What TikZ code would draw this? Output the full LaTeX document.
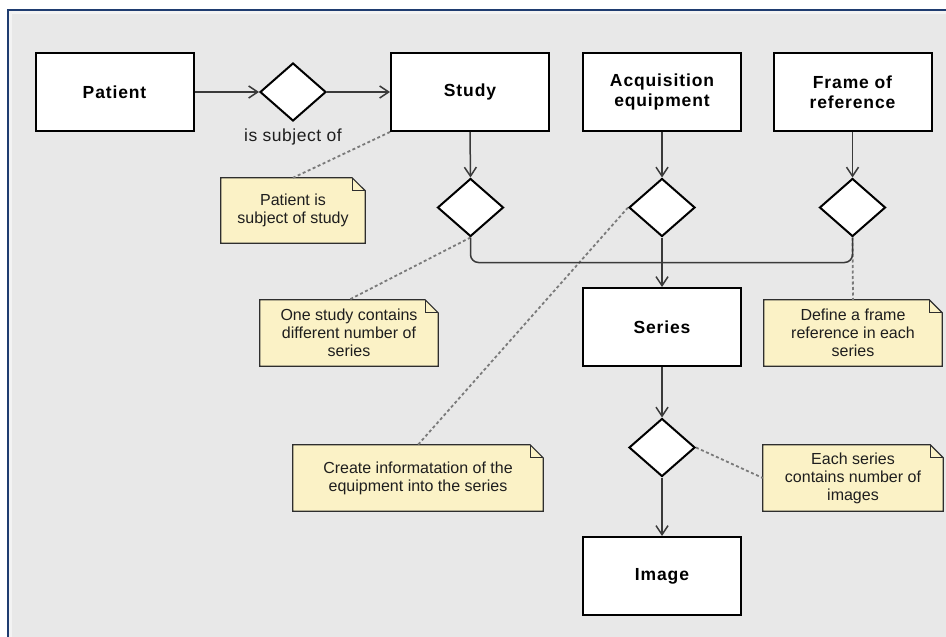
\documentclass[tikz,border=0pt]{standalone}
\usepackage{fontspec}
\setmainfont{Liberation Sans}
\newfontfamily\boxfont[LetterSpace=5]{Liberation Sans}
\newfontfamily\labelfont[LetterSpace=3]{Liberation Sans}
\usetikzlibrary{shapes.geometric,arrows.meta}

\definecolor{bggray}{HTML}{E8E8E8}
\definecolor{bglight}{HTML}{F3F3F3}
\definecolor{frameblue}{HTML}{1F3C70}
\definecolor{notefill}{HTML}{FBF2C6}
\definecolor{notebord}{HTML}{2E2E2E}
\definecolor{linegray}{HTML}{3A3A3A}
\definecolor{dashgray}{HTML}{7A7A7A}
\definecolor{textgray}{HTML}{1E1E1E}

% folded top-right corner of a note
\newcommand\foldnote[1]{%
  \fill[bggray] ([xshift=-13pt]#1.north east) -- (#1.north east) -- ([yshift=-13pt]#1.north east) -- cycle;
  \draw[notebox] (#1.south west) -- (#1.north west) -- ([xshift=-13pt]#1.north east)
    -- ([yshift=-13pt]#1.north east) -- (#1.south east) -- cycle;
  \draw[notebox] ([xshift=-13pt]#1.north east) |- ([yshift=-13pt]#1.north east);}

\begin{document}
\begin{tikzpicture}[x=1pt,y=-1pt,
  entity/.style={draw=black, line width=2pt, fill=white, minimum width=158pt,
    minimum height=78pt, inner sep=0pt, align=center,
    font=\boxfont\fontsize{17.5}{20}\selectfont\bfseries},
  rel/.style={diamond, draw=black, line width=2pt, fill=white,
    minimum width=66pt, minimum height=58pt, inner sep=0pt},
  note/.style={fill=notefill, inner sep=0pt, align=center, text=textgray,
    font=\fontsize{16}{18}\selectfont},
  notebox/.style={draw=notebord, line width=1.2pt},
  flow/.style={draw=linegray, line width=1.5pt},
  arrow/.style={flow, -{Straight Barb[length=9pt,width=12pt]}},
  link/.style={draw=dashgray, line width=1.8pt, dash pattern=on 3pt off 2.5pt}
]
\useasboundingbox (0,0) rectangle (946,637);

% canvas and frame
\fill[white] (0,0) rectangle (946,637);
\fill[bggray] (9,11) rectangle (946,637);
\fill[bglight] (9,11) rectangle (946,14);
\fill[bglight] (9,11) rectangle (12,637);
\draw[frameblue, line width=2pt] (8,637) -- (8,10) -- (946,10);

% entities
\node[entity] (pat) at (114.5,92) {Patient};
\node[entity] (stu) at (470,92) {Study};
\node[entity] (acq) at (662,92) {Acquisition\\equipment};
\node[entity] (frm) at (852.5,92) {Frame of\\reference};
\node[entity] (ser) at (662,327) {Series};
\node[entity] (img) at (662,576) {Image};

% relationships
\node[rel] (pd) at (293,92) {};
\node[rel] (sd) at (470.5,207.5) {};
\node[rel] (ad) at (662,207.5) {};
\node[rel] (fd) at (852.5,207.5) {};
\node[rel] (serd) at (662,447.5) {};
\node[font=\labelfont\fontsize{17.5}{20}\selectfont, text=textgray] (lbl) at (293,137) {is subject of};

\coordinate (jn) at (662,262.5);

% notes
\node[note, minimum width=144pt, minimum height=65pt] (n1) at (293,210.5) {Patient is\\subject of study};
\foldnote{n1}
\node[note, minimum width=178pt, minimum height=66pt] (n2) at (349,333) {One study contains\\different number of\\series};
\foldnote{n2}
\node[note, minimum width=250pt, minimum height=66pt] (n3) at (418,478) {Create informatation of the\\equipment into the series};
\foldnote{n3}
\node[note, minimum width=178pt, minimum height=66pt] (n4) at (853,333) {Define a frame\\reference in each\\series};
\foldnote{n4}
\node[note, minimum width=180pt, minimum height=66pt] (n5) at (853,478) {Each series\\contains number of\\images};
\foldnote{n5}

% note links
\draw[link] (stu.south west) -- (n1.north);
\draw[link] (sd.south) -- (n2.north);
\draw[link] (ad.west) -- (n3.north);
\draw[link] (fd.south) -- (n4.north);
\draw[link] (serd.east) -- (n5.west);

% flows
\draw[arrow] (pat) -- (pd.west);
\draw[arrow] (pd.east) -- (stu.west);
\draw[arrow] (stu.south) -- (sd.north);
\draw[arrow] (acq.south) -- (ad.north);
\draw[arrow] (frm.south) -- (fd.north);
\draw[flow, rounded corners=8pt] (sd.south) |- (jn);
\draw[flow, rounded corners=8pt] (fd.south) |- (jn);
\draw[arrow] (ad.south) -- (ser.north);
\draw[arrow] (ser.south) -- (serd.north);
\draw[arrow] (serd.south) -- (img.north);
\end{tikzpicture}
\end{document}
